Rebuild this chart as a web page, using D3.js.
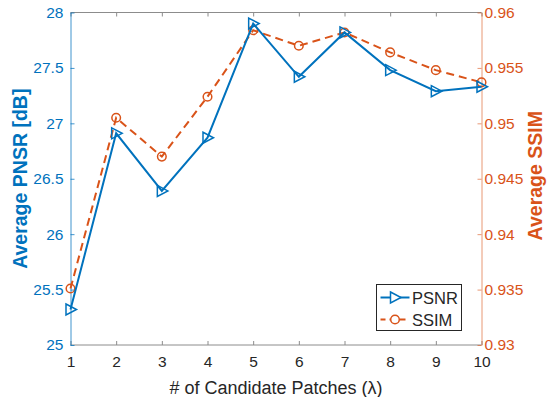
<!DOCTYPE html>
<html>
<head>
<meta charset="utf-8">
<script src="https://cdn.jsdelivr.net/npm/d3@7"></script>
<style>
  html, body { margin: 0; padding: 0; background: #fff; }
  svg { display: block; font-family: "Liberation Sans", Arial, Helvetica, sans-serif; }
</style>
</head>
<body>
<svg id="chart" width="550" height="397"></svg>
<script>
// Number of candidate patches on the x axis
const patches = [1, 2, 3, 4, 5, 6, 7, 8, 9, 10];
// Average PSNR (dB), left axis
const psnr = [25.32, 26.91, 26.39, 26.87, 27.90, 27.42, 27.82, 27.48, 27.29, 27.33];
// Average SSIM, right axis
const ssim = [0.9351, 0.9505, 0.9470, 0.9524, 0.9584, 0.9570, 0.9582, 0.9564, 0.9548, 0.9537];
// Tick values
const psnrTicks = [25, 25.5, 26, 26.5, 27, 27.5, 28];
const ssimTicks = [0.93, 0.935, 0.94, 0.945, 0.95, 0.955, 0.96];
const seriesNames = ["PSNR", "SSIM"];

const blue = "#0072BD";
const orange = "#D95319";
const dark = "#262626";

const svg = d3.select("#chart");
const L = 70.5, R = 481.5, T = 12.5, B = 345;

const x = d3.scaleLinear().domain([1, 10]).range([L, R]);
const yL = d3.scaleLinear().domain([25, 28]).range([B, T]);
const yR = d3.scaleLinear().domain([0.93, 0.96]).range([B, T]);

const tickLen = 4;
const fontTick = 15.5;

// Box: top and bottom edges
svg.append("line").attr("x1", L).attr("x2", R).attr("y1", T).attr("y2", T)
  .attr("stroke", "#8c8c8c").attr("stroke-width", 1);
svg.append("line").attr("x1", L).attr("x2", R).attr("y1", B).attr("y2", B)
  .attr("stroke", "#8c8c8c").attr("stroke-width", 1);

// Bottom x axis (ticks pointing inward)
const xAxis = d3.axisBottom(x).tickValues(patches).tickFormat(d3.format("d"))
  .tickSizeInner(-tickLen).tickSizeOuter(0).tickPadding(11);
const gx = svg.append("g").attr("transform", `translate(0,${B})`).call(xAxis);
gx.select(".domain").remove();
gx.selectAll(".tick line").attr("stroke", "#8c8c8c");
gx.selectAll(".tick text").attr("fill", dark).attr("font-size", fontTick)
  .attr("font-family", "Liberation Sans, Arial, sans-serif");

// Top edge ticks
const xTop = d3.axisTop(x).tickValues(patches).tickFormat("")
  .tickSizeInner(-tickLen).tickSizeOuter(0);
const gt = svg.append("g").attr("transform", `translate(0,${T})`).call(xTop);
gt.select(".domain").remove();
gt.selectAll(".tick line").attr("stroke", "#8c8c8c");

// Left axis (PSNR)
const yAxisL = d3.axisLeft(yL).tickValues(psnrTicks).tickFormat(d => String(d))
  .tickSizeInner(-tickLen).tickSizeOuter(0).tickPadding(7);
const gl = svg.append("g").attr("transform", `translate(${L},0)`).call(yAxisL);
gl.select(".domain").attr("stroke", blue).attr("stroke-opacity", 0.75);
gl.selectAll(".tick line").attr("stroke", blue).attr("stroke-opacity", 0.75);
gl.selectAll(".tick text").attr("fill", blue).attr("font-size", fontTick)
  .attr("font-family", "Liberation Sans, Arial, sans-serif");

// Right axis (SSIM)
const yAxisR = d3.axisRight(yR).tickValues(ssimTicks).tickFormat(d => String(d))
  .tickSizeInner(-tickLen).tickSizeOuter(0).tickPadding(3);
const gr = svg.append("g").attr("transform", `translate(${R},0)`).call(yAxisR);
gr.select(".domain").attr("stroke", orange).attr("stroke-opacity", 0.6);
gr.selectAll(".tick line").attr("stroke", orange).attr("stroke-opacity", 0.6);
gr.selectAll(".tick text").attr("fill", orange).attr("font-size", fontTick)
  .attr("font-family", "Liberation Sans, Arial, sans-serif");

// Axis titles
svg.append("text").attr("x", (L + R) / 2).attr("y", 394)
  .attr("text-anchor", "middle").attr("fill", dark).attr("font-size", 18)
  .text("# of Candidate Patches (λ)");
svg.append("text")
  .attr("transform", `translate(27,${(T + B) / 2}) rotate(-90)`)
  .attr("text-anchor", "middle").attr("fill", blue).attr("font-size", 19.5)
  .attr("font-weight", "bold").text("Average PNSR [dB]");
svg.append("text")
  .attr("transform", `translate(542,${(T + B) / 2 - 3}) rotate(-90)`)
  .attr("text-anchor", "middle").attr("fill", orange).attr("font-size", 19.5)
  .attr("font-weight", "bold").text("Average SSIM");

// Marker shapes
const triPath = (s) => `M${-s * 0.45},${-s * 0.55}L${s * 0.6},0L${-s * 0.45},${s * 0.55}Z`;

// SSIM dashed line
const lineR = d3.line().x((d, i) => x(patches[i])).y(d => yR(d));
svg.append("path").datum(ssim).attr("d", lineR)
  .attr("fill", "none").attr("stroke", orange).attr("stroke-width", 2)
  .attr("stroke-dasharray", "8,5");
svg.selectAll("circle.ssim").data(ssim).join("circle").attr("class", "ssim")
  .attr("cx", (d, i) => x(patches[i])).attr("cy", d => yR(d)).attr("r", 4.3)
  .attr("fill", "none").attr("stroke", orange).attr("stroke-width", 1.5);

// PSNR solid line
const lineL = d3.line().x((d, i) => x(patches[i])).y(d => yL(d));
svg.append("path").datum(psnr).attr("d", lineL)
  .attr("fill", "none").attr("stroke", blue).attr("stroke-width", 2);
svg.selectAll("path.psnr").data(psnr).join("path").attr("class", "psnr")
  .attr("transform", (d, i) => `translate(${x(patches[i])},${yL(d)})`)
  .attr("d", triPath(10))
  .attr("fill", "none").attr("stroke", blue).attr("stroke-width", 1.5)
  .attr("stroke-linejoin", "miter");

// Legend
const lg = svg.append("g");
lg.append("rect").attr("x", 376.5).attr("y", 284.5).attr("width", 85).attr("height", 46)
  .attr("fill", "#fff").attr("stroke", dark).attr("stroke-width", 1);
const entries = [
  { name: seriesNames[0], color: blue, dash: null, y: 297.5 },
  { name: seriesNames[1], color: orange, dash: "8,5", y: 319.5 }
];
entries.forEach((e, k) => {
  lg.append("line").attr("x1", 380.5).attr("x2", 409.5).attr("y1", e.y).attr("y2", e.y)
    .attr("stroke", e.color).attr("stroke-width", 2)
    .attr("stroke-dasharray", e.dash ? "6,4" : null)
    .attr("stroke-dashoffset", e.dash ? 1 : null);
  if (k === 0) {
    lg.append("path").attr("transform", `translate(395,${e.y})`).attr("d", triPath(10))
      .attr("fill", "#fff").attr("stroke", e.color).attr("stroke-width", 1.5);
  } else {
    lg.append("circle").attr("cx", 395).attr("cy", e.y).attr("r", 4.3)
      .attr("fill", "#fff").attr("stroke", e.color).attr("stroke-width", 1.5);
  }
  lg.append("text").attr("x", 412).attr("y", e.y + 6).attr("fill", dark)
    .attr("font-size", 16.5).text(e.name);
});
</script>
</body>
</html>
